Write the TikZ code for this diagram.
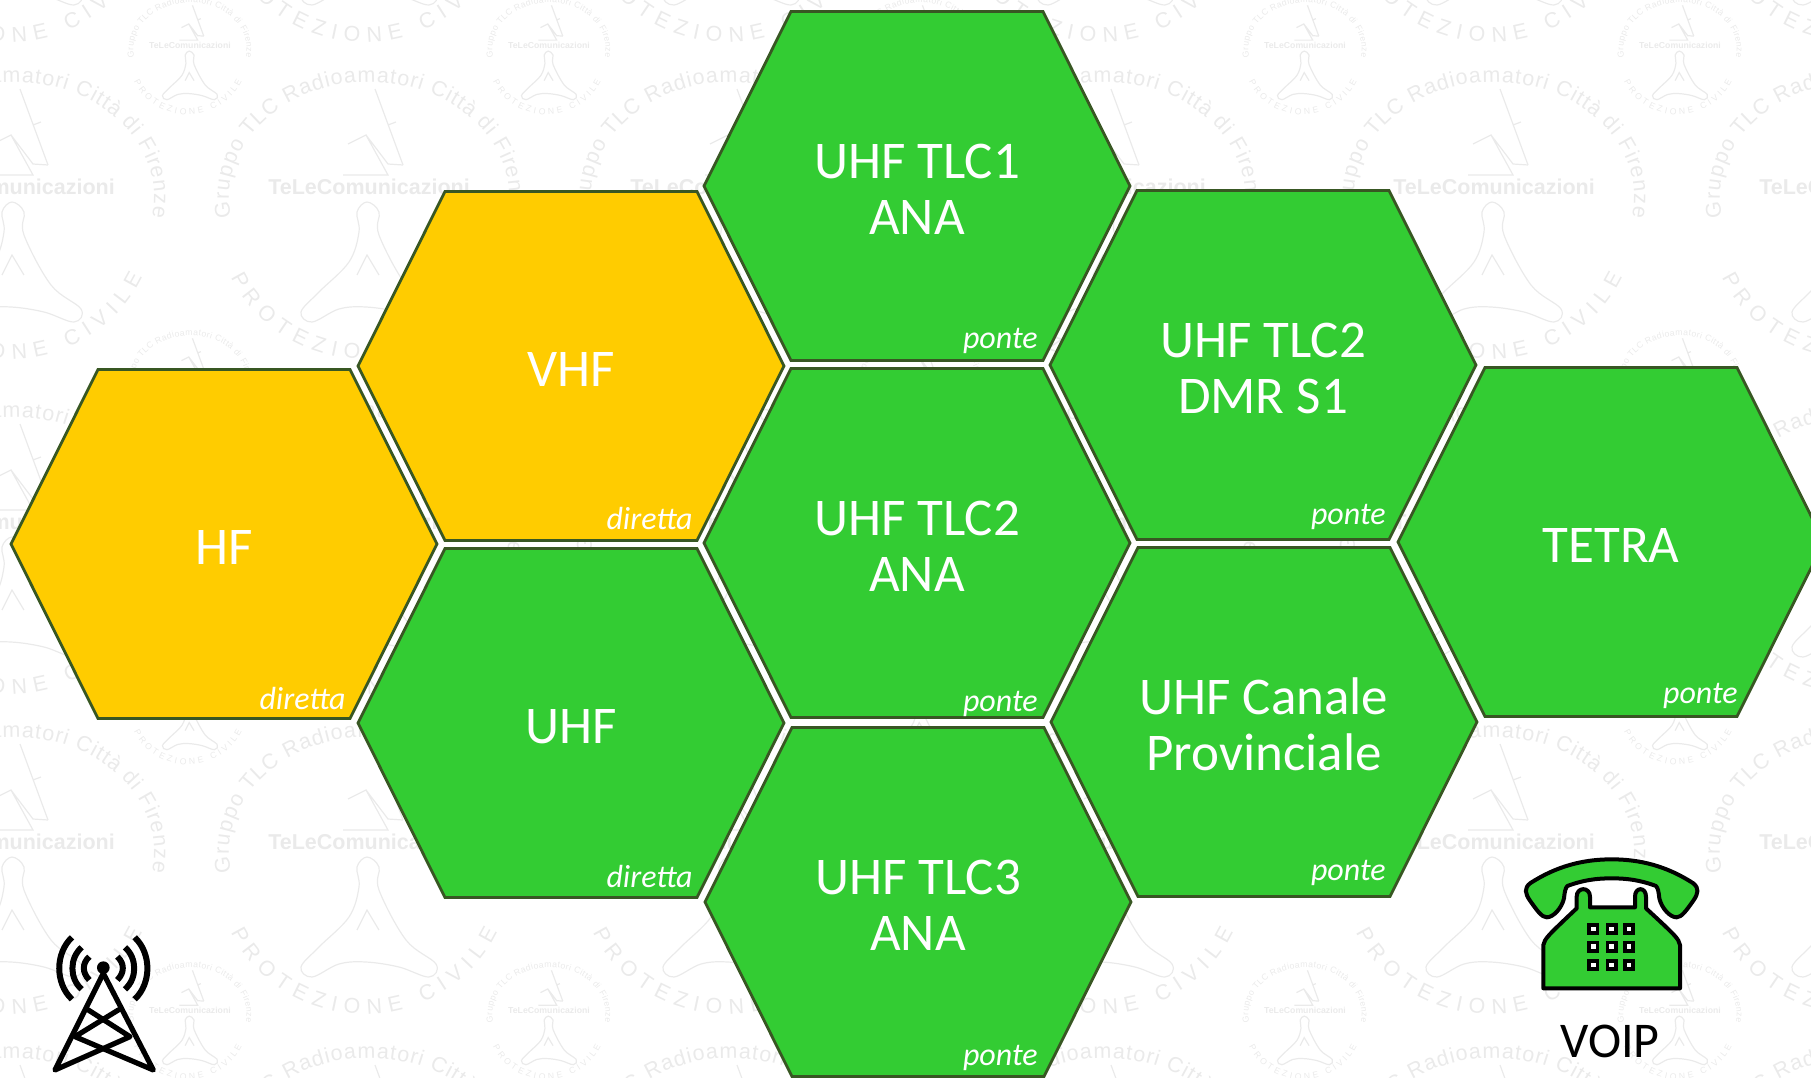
\documentclass[tikz,border=0pt]{standalone}
\usepackage{fontspec}
\setmainfont{Carlito}
\newfontfamily\wmfont{Liberation Sans}
\usetikzlibrary{shapes.symbols,decorations.text}

\definecolor{cellgreen}{HTML}{33CC33}
\definecolor{cellyellow}{HTML}{FFCC00}
\definecolor{celledge}{HTML}{385723}
\definecolor{wmgrey}{HTML}{EAEAEA}

\newcommand{\cellpad}{\rule{0pt}{41pt}}

\tikzset{
  hexcell/.style={signal, signal to=west and east, signal pointer angle=127,
    minimum width=426pt, minimum height=349pt, inner sep=0pt, outer sep=0pt,
    draw=celledge, line width=2.8pt, text=white, align=center,
    font=\fontsize{53}{56.6}\selectfont},
  hexgreen/.style={hexcell, fill=cellgreen},
  hexyellow/.style={hexcell, fill=cellyellow},
  celltag/.style={anchor=base east, inner sep=0pt, text=white, font=\fontsize{32}{34}\selectfont\itshape},
  wmline/.style={draw=wmgrey, line width=1.2pt},
}

% #1,#2 centre, #3 scale
\newcommand{\wmark}[3]{
  \begin{scope}[shift={(#1,#2)}]
    \pgfmathsetmacro{\wmsize}{21.5*#3}
    \path[decorate, decoration={text along path, text align=fit to path,
        text={|\wmfont\fontsize{\wmsize}{\wmsize}\selectfont\color{wmgrey}|Gruppo TLC Radioamatori Città di Firenze}}]
      (190:140*#3 and 115*#3) ++(0,-10*#3) arc [start angle=190, end angle=-10, x radius=140*#3, y radius=115*#3];
    \path[decorate, decoration={text along path, text align=fit to path,
        text={|\wmfont\fontsize{\wmsize}{\wmsize}\selectfont\color{wmgrey}|PROTEZIONE CIVILE}}]
      (205:147*#3 and 142*#3) ++(-5*#3,-30*#3) arc [start angle=205, end angle=335, x radius=147*#3, y radius=142*#3];
    \node[text=wmgrey, inner sep=0pt, font=\wmfont\bfseries\fontsize{\wmsize}{\wmsize}\selectfont] at (0,0) {TeLeComunicazioni};
    \begin{scope}[scale=#3]
      \draw[wmline] plot [smooth cycle, tension=.6] coordinates {(-2,-15) (10,-25) (10,-48) (37,-98) (67,-122)
        (60,-135) (30,-125) (-3,-120) (-30,-122) (-57,-135) (-68,-125) (-50,-105) (-20,-75) (-10,-45) (-12,-25)};
      \draw[wmline] (-12,-88) -- (-2,-68) -- (10,-88);
      \draw[wmline] (6,98) -- (34,22) (19,62) -- (27,65);
      \draw[wmline] (-21,43) -- (-3,52) -- (19,12) -- (-26,12) (-3,52) -- (19,23) -- (34,22);
    \end{scope}
  \end{scope}
}

\begin{document}
\begin{tikzpicture}[x=1pt, y=1pt, node distance=357pt, semithick]

  \path[use as bounding box, clip] (0,0) rectangle (1811,-1078);

  \foreach \wmx in {14,369,731,1105,1494,1860}
    \foreach \wmy in {130,-187,-522,-842,-1163}
      \wmark{\wmx}{\wmy}{1};
  \foreach \wmx in {190,549,920,1305,1680}
    \foreach \wmy in {-45,-378,-695,-1010}
      \wmark{\wmx}{\wmy}{0.405};

  \node [hexyellow] (hf) at (224,-544) {\cellpad HF};
  \node [hexyellow] (vhf) at (571,-366) {\cellpad VHF};
  \node [hexgreen] (uhf) [below of= vhf] {\cellpad UHF};
  \node [hexgreen] (tlc1) at (917,-186) {\cellpad UHF TLC1\\ANA};
  \node [hexgreen] (tlc2) [below of= tlc1] {\cellpad UHF TLC2\\ANA};
  \node [hexgreen] (tlc3) at (918,-902) {\cellpad UHF TLC3\\ANA};
  \node [hexgreen] (dmr) at (1263,-365) {\cellpad UHF TLC2\\DMR S1};
  \node [hexgreen] (prov) at (1264,-722) {\cellpad UHF Canale\\Provinciale};
  \node [hexgreen] (tetra) at (1611,-542) {\cellpad TETRA};

  \node [celltag] (hfTag) at ([shift={(122,-165)}]hf.center) {diretta};
  \node [celltag] (vhfTag) at ([shift={(122,-163)}]vhf.center) {diretta};
  \node [celltag] (uhfTag) at ([shift={(122,-164)}]uhf.center) {diretta};
  \node [celltag] (tlc1Tag) at ([shift={(121,-162)}]tlc1.center) {ponte};
  \node [celltag] (tlc2Tag) at ([shift={(121,-168)}]tlc2.center) {ponte};
  \node [celltag] (tlc3Tag) at ([shift={(120,-163)}]tlc3.center) {ponte};
  \node [celltag] (dmrTag) at ([shift={(123,-159)}]dmr.center) {ponte};
  \node [celltag] (provTag) at ([shift={(122,-158)}]prov.center) {ponte};
  \node [celltag] (tetraTag) at ([shift={(127,-161)}]tetra.center) {ponte};

  % antenna
  \begin{scope}[shift={(0,-860)}, x=0.3333pt, y=-0.3333pt, line width=5.2pt, line cap=round, line join=round]
    \fill (310,323) circle [radius=19];
    \draw (310,340) -- (165,630) -- (390,530) -- (265,450);
    \draw (310,340) -- (460,630) -- (225,530) -- (355,450);
    \draw[line width=6pt, line cap=butt] (268,290) .. controls (246,310) and (246,338) .. (268,360);
    \draw[line width=6pt, line cap=butt] (352,290) .. controls (374,310) and (374,338) .. (352,360);
    \draw[line width=6pt, line cap=butt] (245,262) .. controls (208,295) and (208,355) .. (245,388);
    \draw[line width=6pt, line cap=butt] (375,262) .. controls (412,295) and (412,355) .. (375,388);
    \draw[line width=6pt, line cap=butt] (216,232) .. controls (165,280) and (165,370) .. (216,418);
    \draw[line width=6pt, line cap=butt] (404,232) .. controls (455,280) and (455,370) .. (404,418);
  \end{scope}

  % telephone
  \begin{scope}[shift={(1480,-830)}, x=0.3333pt, y=-0.3333pt, line width=4pt, line join=round]
    \draw[fill=cellgreen] (150,160) .. controls (230,108) and (310,88) .. (395,88)
      .. controls (480,88) and (560,108) .. (640,160)
      .. controls (658,175) and (655,190) .. (640,212)
      .. controls (620,240) and (605,262) .. (590,262)
      .. controls (570,262) and (545,235) .. (538,205)
      .. controls (536,185) and (534,175) .. (528,168)
      .. controls (480,150) and (440,145) .. (395,145)
      .. controls (350,145) and (310,150) .. (262,168)
      .. controls (256,175) and (254,185) .. (252,205)
      .. controls (245,235) and (220,262) .. (200,262)
      .. controls (185,262) and (170,240) .. (150,212)
      .. controls (135,190) and (132,175) .. (150,160) -- cycle;
    \draw[fill=cellgreen] (190,475) -- (190,345) .. controls (195,325) and (200,320) .. (290,235)
      -- (290,200) .. controls (290,170) and (330,170) .. (330,200) -- (330,232) -- (465,232) -- (465,200)
      .. controls (465,170) and (498,170) .. (498,200) -- (498,235)
      .. controls (590,320) and (595,325) .. (600,345) -- (600,475) -- cycle;
    \foreach \keyx in {340,395,447}
      \foreach \keyy in {297,350,405} {
        \fill (\keyx-18,\keyy-18) rectangle (\keyx+18,\keyy+18);
        \fill[white] (\keyx-7,\keyy-7) rectangle (\keyx+7,\keyy+7);
      }
  \end{scope}

  \node [inner sep=0pt, font=\fontsize{50}{50}\selectfont] (voip) at (1610,-1041) {VOIP};

\end{tikzpicture}
\end{document}
